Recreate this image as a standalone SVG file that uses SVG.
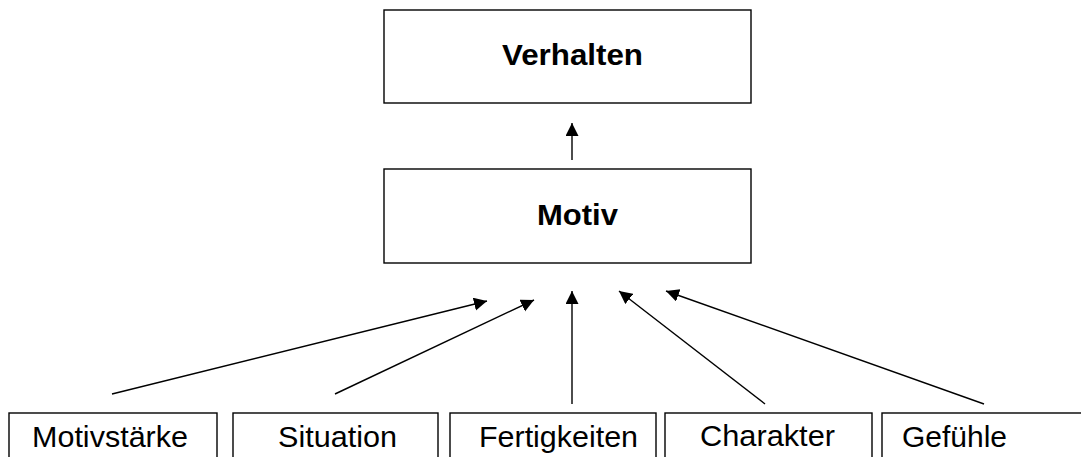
<svg xmlns="http://www.w3.org/2000/svg" width="1081" height="457" viewBox="0 0 1081 457">
<style>
.box{fill:#fff;stroke:#000;stroke-width:1.4}
.bold{font-family:"Liberation Sans",Arial,sans-serif;font-weight:bold;font-size:29px;fill:#000}
.reg{font-family:"Liberation Sans",Arial,sans-serif;font-size:29px;fill:#000}
.conn line{stroke:#000;stroke-width:1.4;marker-end:url(#arr)}
</style>
<defs>
<marker id="arr" markerUnits="userSpaceOnUse" markerWidth="14" markerHeight="14" refX="13" refY="6.5" orient="auto">
<path d="M0,0 L13,6.5 L0,13 z" fill="#000"/>
</marker>
</defs>
<rect width="1081" height="457" fill="#fff"/>
<g id="verhalten">
<rect class="box" x="384" y="10" width="367" height="93"/>
<text class="bold" x="502" y="65" textLength="141" lengthAdjust="spacingAndGlyphs">Verhalten</text>
</g>
<g id="motiv">
<rect class="box" x="384" y="169" width="367" height="94"/>
<text class="bold" x="537" y="225" textLength="81" lengthAdjust="spacingAndGlyphs">Motiv</text>
</g>
<g id="motivstaerke">
<rect class="box" x="9" y="413" width="208" height="60"/>
<text class="reg" x="32" y="447" textLength="156" lengthAdjust="spacingAndGlyphs">Motivstärke</text>
</g>
<g id="situation">
<rect class="box" x="233" y="413" width="205" height="60"/>
<text class="reg" x="278" y="447" textLength="119" lengthAdjust="spacingAndGlyphs">Situation</text>
</g>
<g id="fertigkeiten">
<rect class="box" x="450" y="413" width="206" height="60"/>
<text class="reg" x="479" y="447" textLength="159" lengthAdjust="spacingAndGlyphs">Fertigkeiten</text>
</g>
<g id="charakter">
<rect class="box" x="665" y="413" width="207" height="60"/>
<text class="reg" x="700" y="446" textLength="135" lengthAdjust="spacingAndGlyphs">Charakter</text>
</g>
<g id="gefuehle">
<rect class="box" x="882" y="413" width="220" height="60"/>
<text class="reg" x="902" y="447" textLength="105" lengthAdjust="spacingAndGlyphs">Gefühle</text>
</g>
<g id="connectors" class="conn">
<line x1="572" y1="160" x2="572" y2="123"/>
<line x1="112" y1="394" x2="487" y2="301"/>
<line x1="335" y1="394" x2="534" y2="300"/>
<line x1="572" y1="404" x2="572" y2="291"/>
<line x1="765" y1="404" x2="619" y2="291"/>
<line x1="984" y1="404" x2="666" y2="291"/>
</g>
</svg>
